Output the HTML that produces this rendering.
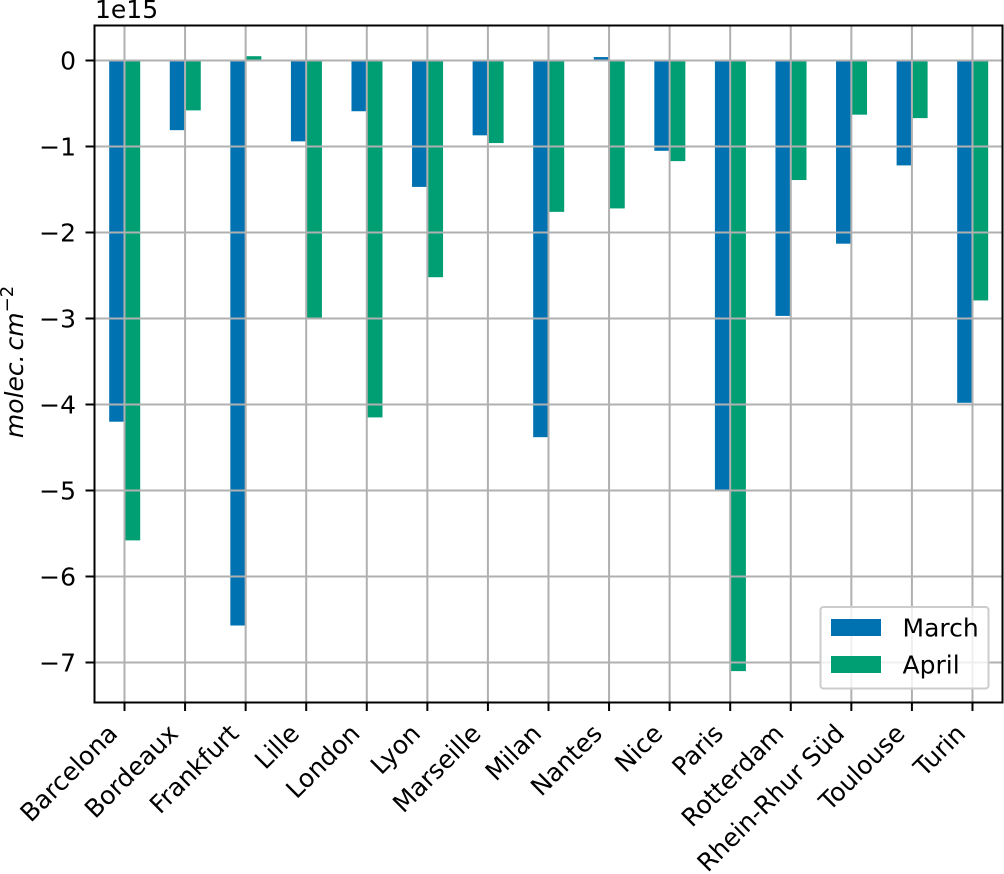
<!DOCTYPE html>
<html>
<head>
<meta charset="utf-8">
<style>
html,body{margin:0;padding:0;background:#fff;}
svg{display:block;}
text{font-family:"DejaVu Sans",sans-serif;fill:#000;}
</style>
</head>
<body>
<svg id="chart" width="1004" height="874" viewBox="0 0 1004 874" xmlns="http://www.w3.org/2000/svg">
  <rect width="1004" height="874" fill="#fff"/>
  <g id="bars"></g>
  <g id="grid"></g>
  <g id="ticks"></g>
  <rect x="94.5" y="25.5" width="908" height="677" fill="none" stroke="#000" stroke-width="2"/>
  <text x="95" y="18" font-size="25">1e15</text>
  <text transform="translate(23,362) rotate(-90)" text-anchor="middle" font-size="25" font-style="italic">molec.<tspan dx="4">cm</tspan><tspan font-size="18" dy="-10" font-style="normal">−2</tspan></text>
  <g>
    <rect x="820.5" y="607" width="168" height="81.5" rx="3" fill="#fff" fill-opacity="0.8" stroke="#ccc" stroke-width="2"/>
    <rect x="831" y="619" width="50" height="17" fill="#0072B2"/>
    <text x="902.5" y="636.5" font-size="25">March</text>
    <rect x="831" y="656" width="50" height="17" fill="#009E73"/>
    <text x="902.5" y="673.5" font-size="25">April</text>
  </g>
</svg>
<script>
const cities = ["Barcelona","Bordeaux","Frankfurt","Lille","London","Lyon","Marseille","Milan","Nantes","Nice","Paris","Rotterdam","Rhein-Rhur Süd","Toulouse","Turin"];
const march = [-4.2,-0.81,-6.57,-0.94,-0.59,-1.47,-0.87,-4.38,0.04,-1.05,-5.0,-2.97,-2.13,-1.22,-3.98];
const april = [-5.58,-0.58,0.05,-2.99,-4.15,-2.52,-0.96,-1.76,-1.72,-1.17,-7.1,-1.39,-0.63,-0.67,-2.79];
const yTicks = [0,-1,-2,-3,-4,-5,-6,-7];

const NS = "http://www.w3.org/2000/svg";
const xScale = i => 124.5 + i * 60.57;
const yScale = v => 60.5 - v * 86;
const barWidth = 15;

function mk(tag, parent, attrs) {
  const el = document.createElementNS(NS, tag);
  for (const k in attrs) el.setAttribute(k, attrs[k]);
  parent.appendChild(el);
  return el;
}
const barsG = document.getElementById('bars');
const gridG = document.getElementById('grid');
const ticksG = document.getElementById('ticks');

function drawBars(values, offset, color, label) {
  values.forEach((v, i) => {
    const y0 = yScale(0), y1 = yScale(v);
    const r = mk('rect', barsG, {
      x: xScale(i) + offset, y: Math.min(y0, y1),
      width: barWidth, height: Math.abs(y1 - y0), fill: color
    });
    
    
  });
}
drawBars(march, -15.3, '#0072B2', 'march');
drawBars(april, 0.7, '#009E73', 'april');

cities.forEach((c, i) => {
  const x = xScale(i);
  const g = mk('line', gridG, {x1: x, x2: x, y1: 25.5, y2: 702.5, stroke: '#b0b0b0', 'stroke-width': 2});
  
  
  const t = mk('line', ticksG, {x1: x, x2: x, y1: 702.5, y2: 711, stroke: '#000', 'stroke-width': 2});
  
  
  const l = mk('text', ticksG, {
    transform: 'translate(' + (x - 5.5) + ',' + 735 + ') rotate(-45)',
    'text-anchor': 'end', 'font-size': 25
  });
  
  
  l.textContent = c;
});

yTicks.forEach(v => {
  const y = yScale(v);
  const g = mk('line', gridG, {x1: 94.5, x2: 1002.5, y1: y, y2: y, stroke: '#b0b0b0', 'stroke-width': 2});
  
  
  const t = mk('line', ticksG, {x1: 85.5, x2: 94.5, y1: y, y2: y, stroke: '#000', 'stroke-width': 2});
  
  
  const l = mk('text', ticksG, {x: 76, y: y + 9, 'text-anchor': 'end', 'font-size': 25});
  
  
  l.textContent = v === 0 ? '0' : '−' + Math.abs(v);
});
</script>
</body>
</html>
